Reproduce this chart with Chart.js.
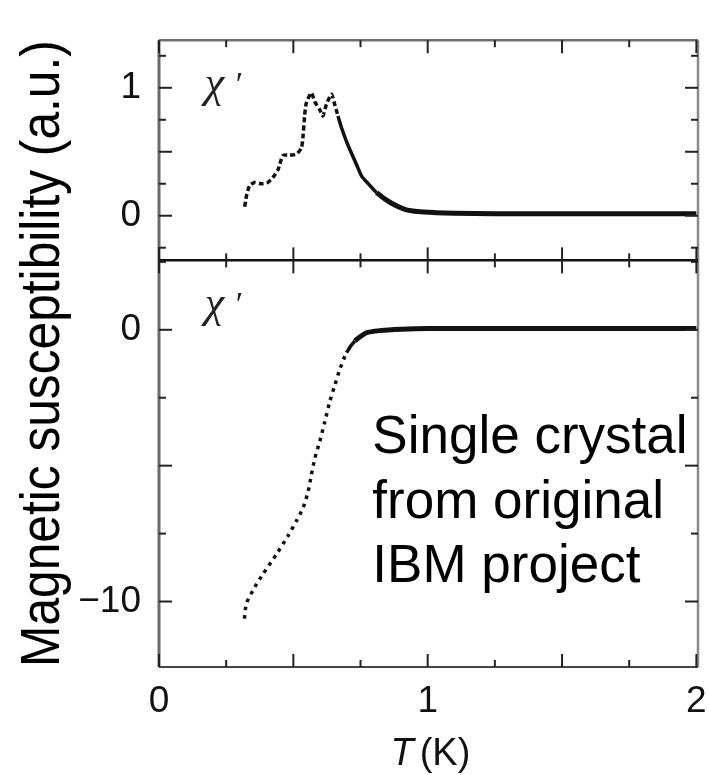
<!DOCTYPE html>
<html lang="en">
<head>
  <meta charset="UTF-8" />
  <title>Magnetic susceptibility</title>
  <script src="https://cdn.jsdelivr.net/npm/chart.js"></script>
  <style>
    body {
      margin: 0;
      background: #fff;
    }

    .chart-box {
      position: relative;
      width: 709px;
      height: 775px;
    }
  </style>
</head>
<body>
  <div class="chart-box">
    <canvas id="grafico"></canvas>
  </div>

  <script>
    // Upper panel (chi', small scale)
    const tTop = [0.319, 0.325, 0.337, 0.356, 0.381, 0.405, 0.424, 0.443, 0.461, 0.486,
                  0.511, 0.530, 0.536, 0.542, 0.548, 0.567, 0.580, 0.598, 0.610, 0.623,
                  0.642, 0.654, 0.666, 0.679, 0.698, 0.716, 0.735, 0.754, 0.781, 0.810,
                  0.859, 0.921, 0.984, 1.10, 1.25, 1.50, 1.75, 2.00];
    const chiTop = [0.07, 0.15, 0.235, 0.26, 0.25, 0.26, 0.30, 0.36, 0.47, 0.475,
                    0.48, 0.53, 0.62, 0.78, 0.88, 0.96, 0.89, 0.83, 0.78, 0.87,
                    0.95, 0.87, 0.78, 0.69, 0.58, 0.49, 0.40, 0.31, 0.245, 0.18,
                    0.105, 0.046, 0.03, 0.02, 0.015, 0.015, 0.015, 0.015];

    // Lower panel (chi', large scale)
    const tBot = [0.318, 0.325, 0.356, 0.387, 0.437, 0.480, 0.511, 0.536, 0.555, 0.567,
                  0.580, 0.598, 0.617, 0.635, 0.654, 0.673, 0.698, 0.729, 0.772, 0.822,
                  0.90, 1.00, 1.25, 1.50, 1.75, 2.00];
    const chiBot = [-10.63, -10.08, -9.48, -8.99, -8.26, -7.59, -7.04, -6.56, -5.95, -5.34,
                    -4.73, -4.12, -3.39, -2.66, -2.05, -1.45, -0.84, -0.41, -0.11, -0.03,
                    0.02, 0.05, 0.05, 0.05, 0.05, 0.05];

    // labelled ticks
    const xTickLabels = [0, 1, 2];
    const yTopTickLabels = [0, 1];
    const yBotTickLabels = [0, -10];

    const legenda = ["Single crystal", "from original", "IBM project"];

    const fonte = '"Liberation Sans", Arial, sans-serif';
    const rotulo = v => (v < 0 ? "\u2212" + Math.abs(v) : String(v));

    // frame, inward ticks and the texts inside the plot
    const quadros = {
      id: "quadros",
      afterDatasetsDraw(chart) {
        const { ctx, scales } = chart;
        const x = scales.x, yTop = scales.yTop, yBot = scales.yBot;
        const left = x.left, right = x.right;
        const top = yTop.top, mid = yTop.bottom, bottom = yBot.bottom;

        const linha = (x1, y1, x2, y2, cor, w) => {
          ctx.strokeStyle = cor;
          ctx.lineWidth = w;
          ctx.beginPath();
          ctx.moveTo(x1, y1);
          ctx.lineTo(x2, y2);
          ctx.stroke();
        };

        ctx.save();
        linha(left, top, right, top, "#707070", 2.5);
        linha(left, top, left, bottom, "#6a6a6a", 3);
        linha(right, top, right, bottom, "#8a8a8a", 2.5);
        linha(left, bottom, right, bottom, "#444", 2);
        linha(left, mid, right, mid, "#111", 2.5);

        const major = (v, passo) => Math.abs(v / passo - Math.round(v / passo)) < 1e-6;

        x.ticks.forEach(t => {
          const px = x.getPixelForValue(t.value);
          const len = major(t.value, 0.5) ? 13 : 7;
          linha(px, top, px, top + len, "#222", 2);
          linha(px, mid - len, px, mid + len, "#222", 2);
          linha(px, bottom, px, bottom - len, "#222", 2);
        });

        [[yTop, 0.5], [yBot, 5]].forEach(([s, passo]) => {
          s.ticks.forEach(t => {
            const py = s.getPixelForValue(t.value);
            const len = major(t.value, passo) ? 13 : 7;
            linha(left, py, left + len, py, "#222", 2);
            linha(right, py, right - len, py, "#222", 2);
          });
        });

        // chi' labels
        ctx.fillStyle = "#222";
        ctx.textAlign = "left";
        ctx.textBaseline = "alphabetic";
        [[yTop, 0.93], [yBot, 0.47]].forEach(([s, v]) => {
          const px = x.getPixelForValue(0.17);
          const py = s.getPixelForValue(v);
          ctx.font = 'italic 44px "Liberation Serif"';
          ctx.fillText("\u03c7", px, py);
          ctx.font = '34px "Liberation Serif"';
          ctx.fillText("\u2032", px + 31, py - 2);
        });

        // caption
        ctx.fillStyle = "#000";
        ctx.font = "53px " + fonte;
        const cx = x.getPixelForValue(0.794);
        let cy = yBot.getPixelForValue(-4.55);
        legenda.forEach(l => {
          ctx.fillText(l, cx, cy);
          cy += 64.5;
        });

        // axis title T (K), T in italics
        const fT = "italic 38px " + fonte;
        const fK = "38px " + fonte;
        ctx.fillStyle = "#111";
        ctx.font = fT;
        const wT = ctx.measureText("T").width;
        ctx.font = fK;
        const wK = ctx.measureText("(K)").width;
        const gap = 6;
        const tx = x.getPixelForValue(1.01) - (wT + gap + wK) / 2;
        const ty = chart.height - 10;
        ctx.font = fT;
        ctx.fillText("T", tx, ty);
        ctx.font = fK;
        ctx.fillText("(K)", tx + wT + gap, ty);
        ctx.restore();
      }
    };

    const eixoY = (min, max, peso, passo, labels) => ({
      type: "linear",
      position: "left",
      stack: "paineis",
      stackWeight: peso,
      min: min,
      max: max,
      grid: { display: false, drawTicks: false },
      border: { display: false },
      ticks: {
        stepSize: passo,
        includeBounds: false,
        autoSkip: false,
        padding: 18,
        color: "#111",
        font: { family: fonte, size: 37 },
        callback: v => (labels.includes(v) ? rotulo(v) : "")
      },
      afterFit: s => { s.width = 82; }
    });

    new Chart(document.getElementById("grafico"), {
      type: "line",
      data: {
        datasets: [
          {
            label: "top",
            yAxisID: "yTop",
            data: tTop.map((t, i) => ({ x: t, y: chiTop[i] })),
            borderColor: "#111",
            borderWidth: 3.5,
            pointRadius: 0,
            tension: 0.2,
            segment: {
              borderDash: c => (tTop[c.p1DataIndex] <= 0.67 ? [5, 3] : undefined),
              borderWidth: c => (tTop[c.p1DataIndex] > 0.85 ? 5 : undefined)
            }
          },
          {
            label: "bottom",
            yAxisID: "yBot",
            data: tBot.map((t, i) => ({ x: t, y: chiBot[i] })),
            borderColor: "#111",
            borderWidth: 3.5,
            pointRadius: 0,
            tension: 0.2,
            segment: {
              borderDash: c => (tBot[c.p1DataIndex] <= 0.70 ? [3.5, 5] : undefined),
              borderWidth: c => (tBot[c.p1DataIndex] > 0.75 ? 5 : undefined)
            }
          }
        ]
      },
      options: {
        responsive: true,
        maintainAspectRatio: false,
        animation: false,
        layout: { padding: { top: 35, right: 11, left: 0, bottom: 0 } },
        plugins: {
          legend: { display: false },
          tooltip: { enabled: false },
          title: {
            display: true,
            position: "left",
            fullSize: false,
            text: "Magnetic susceptibility (a.u.)",
            color: "#000",
            font: { family: fonte, size: 55, weight: "normal" },
            padding: { top: 11, bottom: 0 }
          }
        },
        scales: {
          x: {
            type: "linear",
            position: "bottom",
            min: 0,
            max: 2.006,
            grid: { display: false, drawTicks: false },
            border: { display: false },
            ticks: {
              stepSize: 0.25,
              includeBounds: false,
              autoSkip: false,
              maxRotation: 0,
              padding: 13,
              color: "#111",
              font: { family: fonte, size: 37 },
              callback: v => (xTickLabels.includes(v) ? rotulo(v) : "")
            },
            afterFit: s => {
              s.height = 108;
              s.paddingLeft = 0;
              s.paddingRight = 0;
            }
          },
          yBot: eixoY(-12.41, 2.555, 410, 2.5, yBotTickLabels),
          yTop: eixoY(-0.349, 1.372, 222, 0.25, yTopTickLabels)
        }
      },
      plugins: [quadros]
    });
  </script>
</body>
</html>
